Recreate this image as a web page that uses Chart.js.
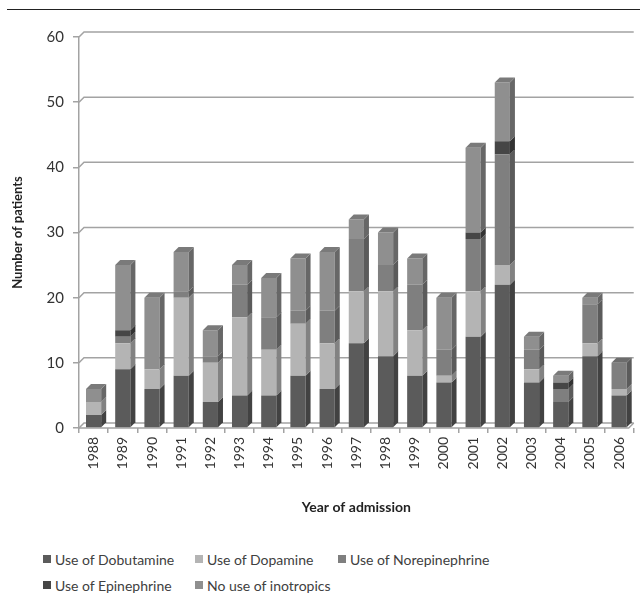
<!DOCTYPE html>
<html lang="en">

<head>
  <meta charset="UTF-8">
  <title>Year of admission</title>
  <script src="https://cdn.jsdelivr.net/npm/chart.js"></script>
  <style>
    body { margin: 0; background: #fff; font-family: Lato, sans-serif; }
    .page { position: relative; width: 640px; height: 601px; overflow: hidden; }
    .top-line { position: absolute; left: 7px; right: 0; top: 9px; border-top: 1px solid #222; }
    #wrap { position: absolute; left: 0; top: 0; width: 640px; height: 530px; }
    .legend { position: absolute; left: 43px; top: 549px; display: grid;
      grid-template-columns: 152px 143px 200px; row-gap: 6px; font-size: 14px; color: #404040; }
    .legend span { display: flex; align-items: center; white-space: nowrap; height: 20px; }
    .legend i { display: inline-block; width: 8px; height: 8px; margin-right: 4px; }
  </style>
</head>

<body>
  <div class="page">
    <div class="top-line"></div>
    <div id="wrap"><canvas id="grafico"></canvas></div>
    <div class="legend" id="legenda"></div>
  </div>
  <script>
    const anos = ['1988', '1989', '1990', '1991', '1992', '1993', '1994', '1995', '1996', '1997',
      '1998', '1999', '2000', '2001', '2002', '2003', '2004', '2005', '2006'];
    const dobutamina = [2, 9, 6, 8, 4, 5, 5, 8, 6, 13, 11, 8, 7, 14, 22, 7, 4, 11, 5];
    const dopamina = [2, 4, 3, 12, 6, 12, 7, 8, 7, 8, 10, 7, 1, 7, 3, 2, 0, 2, 1];
    const norepinefrina = [0, 1, 0, 1, 1, 5, 5, 2, 5, 8, 4, 7, 4, 8, 17, 3, 2, 6, 4];
    const epinefrina = [0, 1, 0, 0, 0, 0, 0, 0, 0, 0, 0, 0, 0, 1, 2, 0, 1, 0, 0];
    const semInotropicos = [2, 10, 11, 6, 4, 3, 6, 8, 9, 3, 5, 4, 8, 13, 9, 2, 1, 1, 0];
    const yTicks = [0, 10, 20, 30, 40, 50, 60];

    const series = [
      { label: 'Use of Dobutamine', data: dobutamina, cor: [91, 91, 91] },
      { label: 'Use of Dopamine', data: dopamina, cor: [180, 180, 180] },
      { label: 'Use of Norepinephrine', data: norepinefrina, cor: [127, 127, 127] },
      { label: 'Use of Epinephrine', data: epinefrina, cor: [70, 70, 70] },
      { label: 'No use of inotropics', data: semInotropicos, cor: [143, 143, 143] }
    ];
    const rgb = (c, f) => `rgb(${Math.round(c[0] * f)}, ${Math.round(c[1] * f)}, ${Math.round(c[2] * f)})`;

    const profundidade = 5;

    // fake excel 3d: back wall gridlines + bar side/top faces
    const efeito3d = {
      id: 'efeito3d',
      beforeDatasetsDraw(chart) {
        const { ctx, chartArea } = chart;
        const y = chart.scales.y;
        const d = profundidade;
        ctx.save();
        ctx.strokeStyle = '#a3a3a3';
        ctx.lineWidth = 1.5;
        yTicks.forEach(v => {
          const py = y.getPixelForValue(v);
          ctx.beginPath();
          ctx.moveTo(chartArea.left, py);
          ctx.lineTo(chartArea.left + d, py - d);
          ctx.lineTo(chartArea.right, py - d);
          ctx.stroke();
        });
        ctx.beginPath();
        ctx.moveTo(chartArea.left, chartArea.bottom);
        ctx.lineTo(chartArea.right - d, chartArea.bottom);
        ctx.lineTo(chartArea.right, chartArea.bottom - d);
        ctx.stroke();
        ctx.restore();
      },
      afterDatasetsDraw(chart) {
        const { ctx } = chart;
        const d = profundidade;
        const topo = {};
        ctx.save();
        chart.data.datasets.forEach((ds, i) => {
          const meta = chart.getDatasetMeta(i);
          meta.data.forEach((bar, j) => {
            if (!ds.data[j]) return;
            const p = bar.getProps(['x', 'y', 'base', 'width'], true);
            const r = p.x + p.width / 2;
            ctx.fillStyle = rgb(series[i].cor, 0.72);
            ctx.beginPath();
            ctx.moveTo(r, p.y);
            ctx.lineTo(r + d, p.y - d);
            ctx.lineTo(r + d, p.base - d);
            ctx.lineTo(r, p.base);
            ctx.closePath();
            ctx.fill();
            topo[j] = { p, cor: series[i].cor };
          });
        });
        Object.values(topo).forEach(t => {
          const l = t.p.x - t.p.width / 2, r = t.p.x + t.p.width / 2;
          ctx.fillStyle = rgb(t.cor, 0.85);
          ctx.beginPath();
          ctx.moveTo(l, t.p.y);
          ctx.lineTo(l + d, t.p.y - d);
          ctx.lineTo(r + d, t.p.y - d);
          ctx.lineTo(r, t.p.y);
          ctx.closePath();
          ctx.fill();
        });
        ctx.restore();
      }
    };

    const ctx = document.getElementById('grafico').getContext('2d');
    const grafico = new Chart(ctx, {
      type: 'bar',
      data: {
        labels: anos,
        datasets: series.map(s => ({
          label: s.label,
          data: s.data,
          backgroundColor: rgb(s.cor, 1),
          borderWidth: 0,
          barPercentage: 0.52,
          categoryPercentage: 1
        }))
      },
      options: {
        responsive: true,
        maintainAspectRatio: false,
        animation: false,
        layout: { padding: { top: 37, right: 3, left: 0, bottom: 0 } },
        plugins: { legend: { display: false }, tooltip: { enabled: false } },
        scales: {
          x: {
            stacked: true,
            offset: true,
            grid: { display: true, drawOnChartArea: false, tickLength: 5, color: '#a3a3a3', lineWidth: 1.5 },
            border: { display: false },
            ticks: { color: '#333', font: { family: 'Lato', size: 14 }, minRotation: 90, maxRotation: 90, padding: 4 },
            title: { display: true, text: 'Year of admission', color: '#222', padding: { top: 0, bottom: 14 },
              font: { family: 'Lato', size: 14, weight: 'bold' } },
            afterFit: s => { s.height = 102; }
          },
          y: {
            stacked: true,
            min: 0,
            max: 60,
            grid: { display: true, drawOnChartArea: false, tickLength: 6, color: '#a3a3a3', lineWidth: 1.5 },
            border: { display: true, color: '#a3a3a3', width: 1.5 },
            ticks: { stepSize: 10, color: '#333', padding: 9, font: { family: 'Lato', size: 15 } },
            title: { display: true, text: 'Number of patients', color: '#222', padding: { top: 10, bottom: 0 },
              font: { family: 'Lato', size: 13, weight: 'bold' } },
            afterFit: s => { s.width = 79; }
          }
        }
      },
      plugins: [efeito3d]
    });

    const legenda = document.getElementById('legenda');
    series.forEach(s => {
      const item = document.createElement('span');
      item.innerHTML = `<i style="background:${rgb(s.cor, 1)}"></i>${s.label}`;
      legenda.appendChild(item);
    });
  </script>
</body>

</html>
